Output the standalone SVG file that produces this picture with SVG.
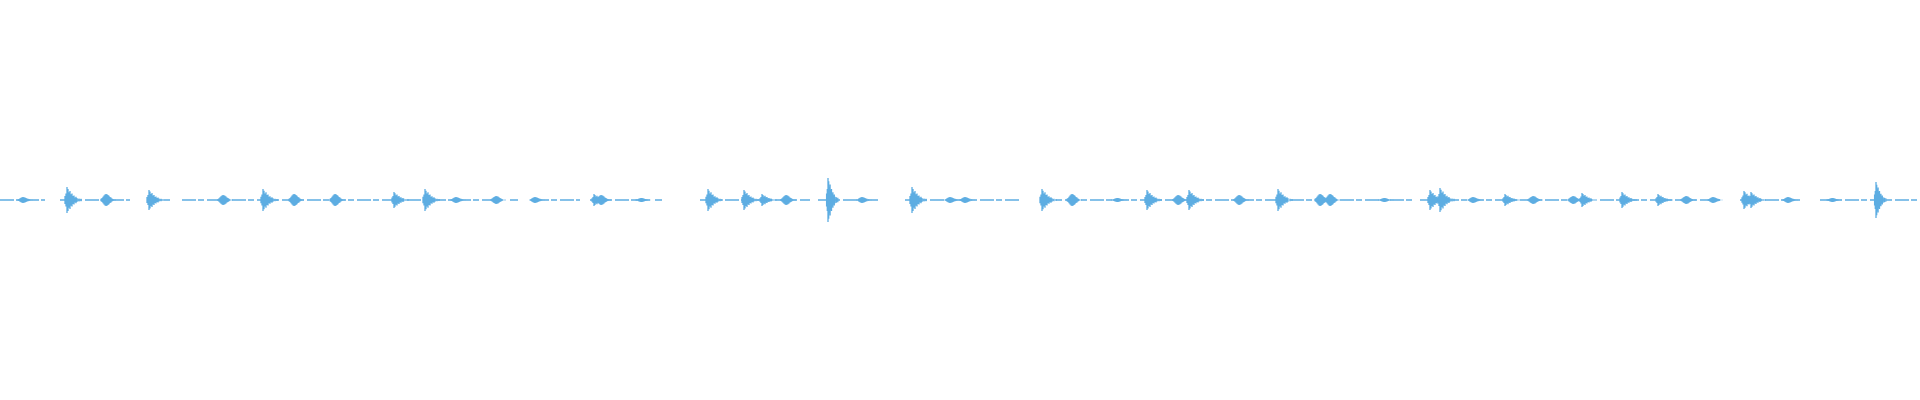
<svg xmlns="http://www.w3.org/2000/svg" xmlns:xlink="http://www.w3.org/1999/xlink" width="1920" height="400" viewBox="0 0 1920 400">
<style>.w{stroke:#5dade2;fill:none;stroke-width:1.3}</style>
<defs>
<path id="b" class="w" vector-effect="non-scaling-stroke" d="M-2,-0.3V0.3M-1,-0.5V0.5M0,-1V1M1,-0.85V0.85M2,-0.6V0.6M3,-0.7V0.7M4,-0.45V0.45M5,-0.5V0.5M6,-0.3V0.3M7,-0.35V0.35M8,-0.2V0.2M9,-0.25V0.25M10,-0.15V0.15M12,-0.12V0.12M14,-0.1V0.1"/>
<path id="m" class="w" vector-effect="non-scaling-stroke" d="M-6,-0.2V0.2M-5,-0.35V0.35M-4,-0.55V0.55M-3,-0.75V0.75M-2,-0.9V0.9M-1,-1V1M0,-0.95V0.95M1,-0.85V0.85M2,-0.7V0.7M3,-0.5V0.5M4,-0.4V0.4M5,-0.25V0.25M6,-0.15V0.15M8,-0.1V0.1"/>
</defs>
<g id="baseline" class="w" stroke-width="1.2">
<path d="M0,200H45M60,200H130M148,200H170M182,200H500M510,200H518M535,200H580M590,200H650M655,200H662M700,200H810M818,200H878M905,200H1020M1040,200H1412M1420,200H1585M1600,200H1720M1740,200H1800M1820,200H1920" stroke-dasharray="14 2 6 3"/>
</g>
<g id="bursts">
<use xlink:href="#m" transform="translate(24,200) scale(1,3)"/>
<use xlink:href="#b" transform="translate(67,200) scale(1,13)"/>
<use xlink:href="#m" transform="translate(107,200) scale(1,6)"/>
<use xlink:href="#b" transform="translate(149,200) scale(1,10)"/>
<use xlink:href="#m" transform="translate(224,200) scale(1,5)"/>
<use xlink:href="#b" transform="translate(263,200) scale(1,11)"/>
<use xlink:href="#m" transform="translate(295,200) scale(1,6)"/>
<use xlink:href="#m" transform="translate(336,200) scale(1,6)"/>
<use xlink:href="#b" transform="translate(394,200) scale(1,8)"/>
<use xlink:href="#b" transform="translate(425,200) scale(1,11)"/>
<use xlink:href="#m" transform="translate(457,200) scale(1,3)"/>
<use xlink:href="#m" transform="translate(497,200) scale(1,4)"/>
<use xlink:href="#m" transform="translate(536,200) scale(1,3)"/>
<use xlink:href="#b" transform="translate(594,200) scale(1,6)"/>
<use xlink:href="#m" transform="translate(602,200) scale(1,5)"/>
<use xlink:href="#m" transform="translate(642,200) scale(1,2)"/>
<use xlink:href="#b" transform="translate(708,200) scale(1,11)"/>
<use xlink:href="#b" transform="translate(744,200) scale(1,10)"/>
<use xlink:href="#b" transform="translate(762,200) scale(1,6)"/>
<use xlink:href="#m" transform="translate(787,200) scale(1,5)"/>
<use xlink:href="#b" transform="translate(828,200) scale(0.7,22)"/>
<use xlink:href="#m" transform="translate(863,200) scale(1,3)"/>
<use xlink:href="#b" transform="translate(912,200) scale(1,13)"/>
<use xlink:href="#m" transform="translate(951,200) scale(1,3)"/>
<use xlink:href="#m" transform="translate(966,200) scale(1,3)"/>
<use xlink:href="#b" transform="translate(1042,200) scale(1,11)"/>
<use xlink:href="#m" transform="translate(1073,200) scale(1,6)"/>
<use xlink:href="#m" transform="translate(1118,200) scale(1,2)"/>
<use xlink:href="#b" transform="translate(1147,200) scale(1,10)"/>
<use xlink:href="#m" transform="translate(1179,200) scale(1,5)"/>
<use xlink:href="#b" transform="translate(1189,200) scale(1,10)"/>
<use xlink:href="#m" transform="translate(1240,200) scale(1,5)"/>
<use xlink:href="#b" transform="translate(1278,200) scale(1,11)"/>
<use xlink:href="#m" transform="translate(1321,200) scale(1,6)"/>
<use xlink:href="#m" transform="translate(1331,200) scale(1,6)"/>
<use xlink:href="#m" transform="translate(1385,200) scale(1,2)"/>
<use xlink:href="#b" transform="translate(1430,200) scale(1,10)"/>
<use xlink:href="#b" transform="translate(1440,200) scale(1,12)"/>
<use xlink:href="#m" transform="translate(1474,200) scale(1,3)"/>
<use xlink:href="#b" transform="translate(1505,200) scale(1,6)"/>
<use xlink:href="#m" transform="translate(1534,200) scale(1,4)"/>
<use xlink:href="#m" transform="translate(1574,200) scale(1,4)"/>
<use xlink:href="#b" transform="translate(1582,200) scale(1,7)"/>
<use xlink:href="#b" transform="translate(1622,200) scale(1,8)"/>
<use xlink:href="#b" transform="translate(1658,200) scale(1,6)"/>
<use xlink:href="#m" transform="translate(1687,200) scale(1,4)"/>
<use xlink:href="#m" transform="translate(1714,200) scale(1,3)"/>
<use xlink:href="#b" transform="translate(1744,200) scale(1,9)"/>
<use xlink:href="#b" transform="translate(1751,200) scale(1,8)"/>
<use xlink:href="#m" transform="translate(1789,200) scale(1,3)"/>
<use xlink:href="#m" transform="translate(1833,200) scale(1,2)"/>
<use xlink:href="#b" transform="translate(1876,200) scale(0.7,18)"/>
</g>
</svg>
